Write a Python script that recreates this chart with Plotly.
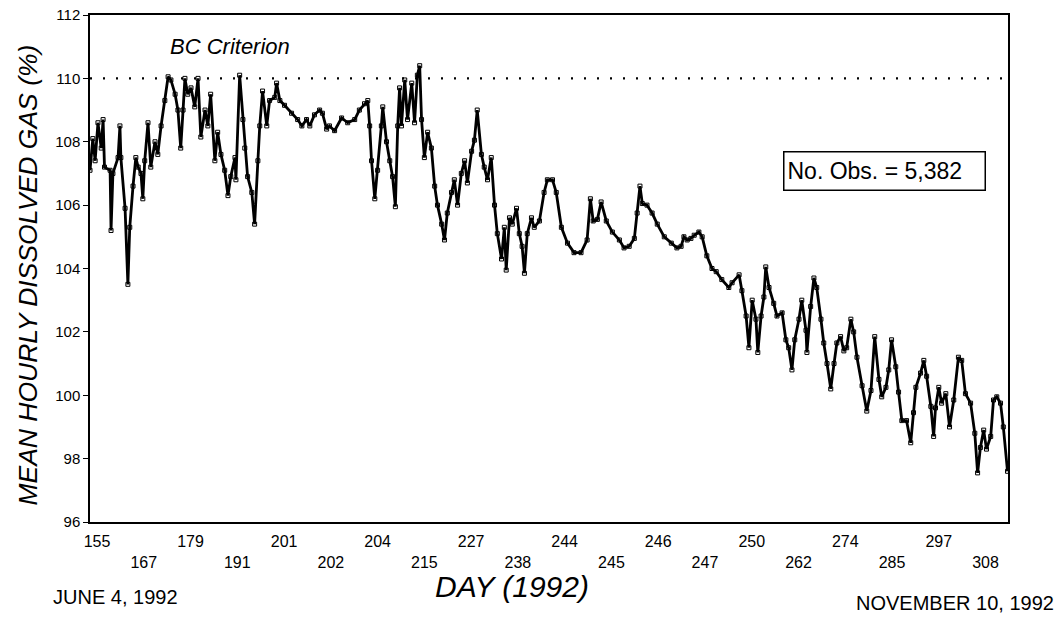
import plotly.graph_objects as go

# day labels along the bottom axis (evenly spaced, two staggered rows)
day_labels = ["155", "167", "179", "191", "201", "202", "204", "215", "227", "238",
              "244", "245", "246", "247", "250", "262", "274", "285", "297", "308"]

# position along the axis in label units, and mean hourly dissolved gas (%)
x_pos = [-0.15, -0.09, -0.04, 0.02, 0.09, 0.13, 0.16, 0.28, 0.30, 0.34, 0.45, 0.49, 0.51, 0.60, 0.66,
         0.70, 0.77, 0.83, 0.88, 0.94, 0.98, 1.02, 1.09, 1.15, 1.24, 1.30, 1.37, 1.45, 1.52, 1.58,
         1.67, 1.73, 1.79, 1.84, 1.88, 1.94, 2.01, 2.09, 2.16, 2.22, 2.31, 2.37, 2.43, 2.52, 2.58,
         2.65, 2.73, 2.80, 2.86, 2.95, 2.97, 3.05, 3.12, 3.16, 3.22, 3.31, 3.37, 3.44, 3.48, 3.54,
         3.63, 3.69, 3.80, 3.84, 3.91, 4.01, 4.16, 4.29, 4.38, 4.48, 4.55, 4.65, 4.76, 4.82, 4.91,
         4.97, 5.08, 5.23, 5.36, 5.51, 5.61, 5.72, 5.79, 5.83, 5.87, 5.94, 6.00, 6.08, 6.11, 6.19,
         6.26, 6.32, 6.38, 6.43, 6.47, 6.51, 6.58, 6.64, 6.73, 6.79, 6.85, 6.90, 6.94, 7.00, 7.07,
         7.15, 7.22, 7.28, 7.37, 7.43, 7.49, 7.58, 7.64, 7.71, 7.79, 7.86, 7.92, 8.01, 8.07, 8.13,
         8.22, 8.28, 8.35, 8.43, 8.50, 8.56, 8.65, 8.71, 8.75, 8.82, 8.88, 8.97, 9.03, 9.09, 9.14,
         9.20, 9.29, 9.35, 9.46, 9.56, 9.63, 9.74, 9.82, 9.93, 10.06, 10.20, 10.35, 10.48, 10.55, 10.61,
         10.70, 10.78, 10.89, 11.02, 11.17, 11.27, 11.38, 11.49, 11.55, 11.61, 11.66, 11.76, 11.87, 11.98, 12.13,
         12.28, 12.40, 12.49, 12.55, 12.62, 12.70, 12.77, 12.87, 12.94, 13.04, 13.15, 13.24, 13.36, 13.51, 13.58,
         13.73, 13.79, 13.88, 13.94, 14.01, 14.09, 14.13, 14.20, 14.26, 14.30, 14.37, 14.47, 14.54, 14.65, 14.73,
         14.79, 14.86, 14.92, 15.01, 15.07, 15.16, 15.18, 15.26, 15.33, 15.39, 15.48, 15.54, 15.61, 15.69, 15.76,
         15.82, 15.90, 15.97, 16.03, 16.12, 16.18, 16.25, 16.36, 16.46, 16.55, 16.63, 16.72, 16.78, 16.87, 16.93,
         16.99, 17.08, 17.14, 17.21, 17.31, 17.40, 17.46, 17.51, 17.61, 17.68, 17.74, 17.83, 17.89, 17.93, 18.00,
         18.06, 18.15, 18.23, 18.32, 18.42, 18.49, 18.57, 18.68, 18.77, 18.83, 18.89, 18.96, 19.02, 19.11, 19.17,
         19.24, 19.32, 19.38, 19.47]
gas_pct = [107.1, 108.1, 107.4, 108.6, 107.8, 108.7, 107.2, 107.1, 105.2, 107.0, 107.5, 108.5, 107.5, 105.9, 103.5,
           105.3, 106.6, 107.5, 107.2, 107.0, 106.2, 107.4, 108.6, 107.2, 108.0, 107.6, 108.5, 109.3, 110.05, 109.95,
           109.5, 109.0, 107.8, 109.0, 110.0, 109.5, 109.7, 109.1, 110.0, 108.15, 109.0, 108.5, 109.5, 107.4, 108.3,
           107.6, 107.1, 106.3, 106.9, 107.5, 106.8, 110.1, 108.7, 107.8, 106.9, 106.4, 105.4, 107.4, 108.5, 109.6,
           108.5, 109.3, 109.4, 109.85, 109.3, 109.15, 108.9, 108.7, 108.5, 108.7, 108.5, 108.85, 109.0, 108.9, 108.4,
           108.5, 108.35, 108.75, 108.6, 108.7, 109.0, 109.2, 109.3, 108.5, 107.4, 106.2, 107.1, 108.5, 109.1, 108.0,
           107.4, 106.9, 105.95, 108.5, 109.7, 108.5, 109.95, 108.7, 109.85, 108.6, 110.1, 110.4, 108.7, 107.5, 108.3,
           107.8, 106.6, 106.0, 105.4, 104.9, 105.75, 106.4, 106.8, 106.0, 107.0, 107.4, 106.7, 107.7, 108.05, 109.0,
           107.6, 107.2, 106.8, 107.5, 106.0, 105.1, 104.3, 105.3, 103.95, 105.6, 105.4, 105.9, 105.1, 104.7, 103.85,
           105.1, 105.6, 105.3, 105.5, 106.4, 106.8, 106.8, 106.4, 105.3, 104.8, 104.5, 104.5, 104.9, 106.2, 105.5,
           105.55, 106.1, 105.5, 105.15, 104.9, 104.65, 104.7, 104.95, 105.75, 106.6, 106.05, 106.0, 105.75, 105.4, 105.0,
           104.8, 104.65, 104.7, 105.0, 104.9, 104.95, 105.05, 105.15, 105.0, 104.4, 104.0, 103.9, 103.65, 103.4, 103.55,
           103.8, 103.3, 102.5, 101.5, 103.0, 102.4, 101.35, 102.5, 103.1, 104.05, 103.4, 102.9, 102.5, 102.6, 101.75,
           101.5, 100.8, 101.75, 102.4, 103.0, 102.05, 101.35, 102.8, 103.7, 103.4, 102.4, 101.65, 101.0, 100.2, 101.0,
           101.65, 101.85, 101.4, 101.5, 102.4, 102.0, 101.2, 100.3, 99.5, 100.15, 101.85, 100.5, 99.95, 100.25, 100.8,
           101.75, 100.9, 100.1, 99.2, 99.2, 98.5, 99.45, 100.25, 100.7, 101.1, 100.6, 99.65, 98.7, 99.6, 100.25,
           99.75, 100.05, 99.0, 99.85, 101.2, 101.1, 100.05, 99.75, 98.8, 97.55, 98.35, 98.9, 98.3, 98.7, 99.85,
           99.95, 99.75, 99.0, 97.6]

bc_criterion = 110
n_obs = "5,382"

FONT = "Liberation Sans, Arial, sans-serif"

# stagger the day labels in two rows
tick_text = [lab if i % 2 == 0 else "<br>" + lab for i, lab in enumerate(day_labels)]

fig = go.Figure()
fig.add_trace(go.Scatter(x=x_pos, y=gas_pct, mode="lines+markers",
                         line=dict(color="black", width=2.8),
                         marker=dict(symbol="square-open", size=4, color="black", line=dict(width=1)),
                         showlegend=False, hoverinfo="skip"))

# BC criterion dotted line
fig.add_shape(type="line", xref="paper", x0=0, x1=1, yref="y", y0=bc_criterion, y1=bc_criterion,
              line=dict(color="black", width=2.2, dash="2px,11px"))

fig.update_layout(
    width=1063, height=617,
    margin=dict(l=90, r=55, t=15, b=95),
    paper_bgcolor="white", plot_bgcolor="white",
    font=dict(family=FONT, color="black"),
    xaxis=dict(range=[-0.15, 19.48], tickvals=list(range(len(day_labels))), ticktext=tick_text,
               showgrid=False, zeroline=False, showline=True, linecolor="black", linewidth=2,
               mirror=True, ticks="", ticklabelstandoff=4, automargin=False,
               tickfont=dict(size=16, family=FONT)),
    yaxis=dict(range=[96, 112], tickvals=list(range(96, 113, 2)), showgrid=False, zeroline=False,
               showline=True, linecolor="black", linewidth=1.5, mirror=True, automargin=False,
               ticks="outside", ticklen=5, tickwidth=1.2, tickcolor="black",
               ticklabeloverflow="allow", tickfont=dict(size=15, family=FONT)),
)

common = dict(xref="paper", yref="paper", showarrow=False, xanchor="center", yanchor="middle")
fig.add_annotation(text="<i>BC Criterion</i>", x=0.1525, y=0.937, font=dict(size=22), **common)
fig.add_annotation(text="No. Obs. = " + n_obs, x=0.866, y=0.692, font=dict(size=23),
                   bordercolor="black", borderwidth=1.5, borderpad=3, bgcolor="white",
                   width=194, height=31, align="left", **common)
fig.add_annotation(text="<i>MEAN HOURLY DISSOLVED GAS (%)</i>", x=-0.067, y=0.487, textangle=-90,
                   font=dict(size=26.5), **common)
fig.add_annotation(text="<i>DAY (1992)</i>", x=0.46, y=-0.128, font=dict(size=30), **common)
fig.add_annotation(text="JUNE 4, 1992", x=0.028, y=-0.148, font=dict(size=20), **common)
fig.add_annotation(text="NOVEMBER 10, 1992", x=0.942, y=-0.16, font=dict(size=20), **common)

# drop the default page margin so the figure fills the window exactly
fig.write_html("out.html", config={"displayModeBar": False},
               post_script="document.body.style.margin='0';")
